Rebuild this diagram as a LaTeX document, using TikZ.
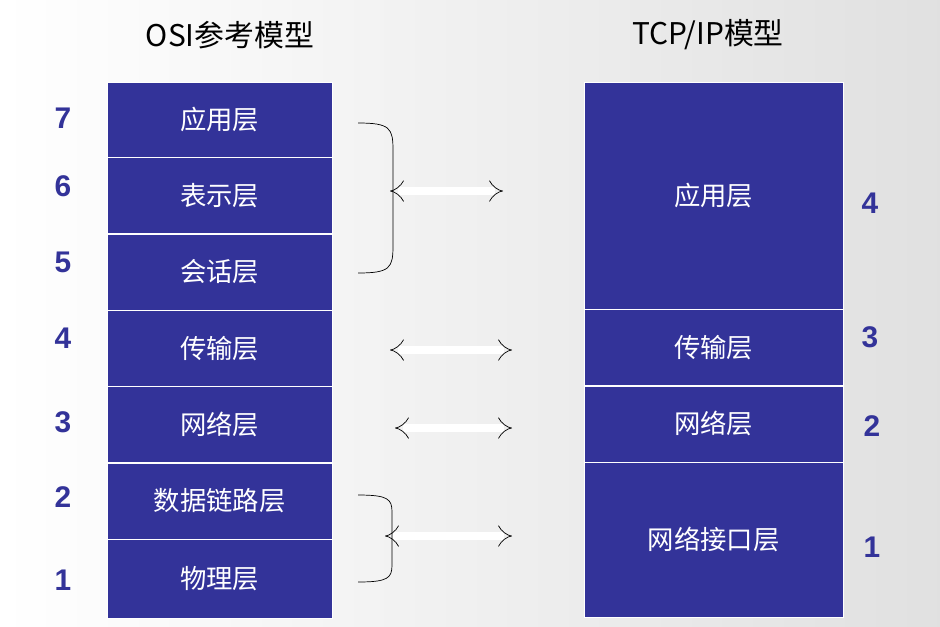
\documentclass[tikz,border=0pt]{standalone}
\usepackage{fontspec}
\setmainfont{Liberation Sans}
\newfontfamily\cjk{Noto Sans CJK SC}
\usetikzlibrary{positioning}
\usetikzlibrary{arrows.meta}
\definecolor{layerblue}{HTML}{333399}
\tikzstyle{layer} = [draw=white, very thin, fill=layerblue, text=white, font=\cjk\fontsize{15}{15}\selectfont, inner sep=0pt, anchor=north west]
\tikzstyle{num} = [text=layerblue, font=\bfseries\fontsize{17}{17}\selectfont]
\tikzstyle{title} = [font=\cjk\fontsize{17}{17}\selectfont]
\tikzstyle{both} = [double, double distance=4pt, {Implies}-{Implies}, thin]
\tikzstyle{grp} = [thin]
\begin{document}
\begin{tikzpicture}[x=0.02cm, y=-0.02cm]
    \useasboundingbox (0,0) rectangle (940,626);
    \fill[left color=white, right color=black!12] (0,0) rectangle (940,626);

    \node[title] (osi_title) at (230,35) {OSI参考模型};
    \node[title] (tcp_title) at (708,35) {TCP/IP模型};

    % OSI layers
    \node[layer, minimum width=225*0.02cm, minimum height=75*0.02cm] (osi_app) at (107,82) {应用层};
    \node[layer, minimum width=225*0.02cm, minimum height=76*0.02cm, below=0pt of osi_app.south west, anchor=north west] (osi_pre) {表示层};
    \node[layer, minimum width=225*0.02cm, minimum height=76*0.02cm, below=0pt of osi_pre.south west, anchor=north west] (osi_ses) {会话层};
    \node[layer, minimum width=225*0.02cm, minimum height=76*0.02cm, below=0pt of osi_ses.south west, anchor=north west] (osi_tra) {传输层};
    \node[layer, minimum width=225*0.02cm, minimum height=76*0.02cm, below=0pt of osi_tra.south west, anchor=north west] (osi_net) {网络层};
    \node[layer, minimum width=225*0.02cm, minimum height=76*0.02cm, below=0pt of osi_net.south west, anchor=north west] (osi_dat) {数据链路层};
    \node[layer, minimum width=225*0.02cm, minimum height=79*0.02cm, below=0pt of osi_dat.south west, anchor=north west] (osi_phy) {物理层};

    % TCP/IP layers
    \node[layer, minimum width=259*0.02cm, minimum height=227*0.02cm] (tcp_app) at (584,82) {应用层};
    \node[layer, minimum width=259*0.02cm, minimum height=76*0.02cm, below=0pt of tcp_app.south west, anchor=north west] (tcp_tra) {传输层};
    \node[layer, minimum width=259*0.02cm, minimum height=76*0.02cm, below=0pt of tcp_tra.south west, anchor=north west] (tcp_net) {网络层};
    \node[layer, minimum width=259*0.02cm, minimum height=155*0.02cm, below=0pt of tcp_net.south west, anchor=north west] (tcp_if) {网络接口层};

    % numbers
    \node[num] (n7) at (63,118) {7};
    \node[num] (n6) at (63,186) {6};
    \node[num] (n5) at (63,262) {5};
    \node[num] (n4) at (63,338) {4};
    \node[num] (n3) at (63,422) {3};
    \node[num] (n2) at (63,497) {2};
    \node[num] (n1) at (63,580) {1};
    \node[num] (m4) at (870,203) {4};
    \node[num] (m3) at (870,337) {3};
    \node[num] (m2) at (872,426) {2};
    \node[num] (m1) at (872,547) {1};

    % brackets and arrows
    \coordinate (br_a1) at (358,123);
    \coordinate (br_a2) at (358,273);
    \coordinate (br_b1) at (358,495);
    \coordinate (br_b2) at (358,582);
    \draw[grp] (br_a1) .. controls (390,123) and (393,128) .. (393,150) -- (393,246)
        .. controls (393,268) and (390,273) .. (br_a2);
    \draw[grp] (br_b1) .. controls (388,495) and (392,499) .. (392,512) -- (392,565)
        .. controls (392,578) and (388,582) .. (br_b2);

    \coordinate (ar_a1) at (390,191);
    \coordinate (ar_a2) at (503,191);
    \coordinate (ar_b1) at (390,350);
    \coordinate (ar_b2) at (512,350);
    \coordinate (ar_c1) at (395,428);
    \coordinate (ar_c2) at (512,428);
    \coordinate (ar_d1) at (385,536);
    \coordinate (ar_d2) at (512,536);
    \draw[both] (ar_a1) -- (ar_a2);
    \draw[both] (ar_b1) -- (ar_b2);
    \draw[both] (ar_c1) -- (ar_c2);
    \draw[both] (ar_d1) -- (ar_d2);
\end{tikzpicture}
\end{document}
